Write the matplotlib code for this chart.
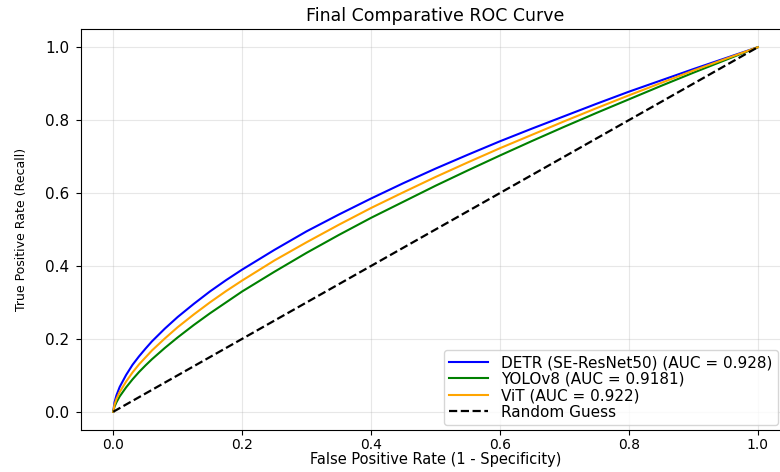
import numpy as np
import matplotlib
matplotlib.use("Agg")
import matplotlib.pyplot as plt

# false positive rate sample points shared by all models
fpr = [0.0, 0.002, 0.005, 0.01, 0.02, 0.03, 0.04, 0.05, 0.06, 0.08, 0.10,
       0.125, 0.15, 0.175, 0.20, 0.25, 0.30, 0.35, 0.40, 0.45, 0.50,
       0.55, 0.60, 0.65, 0.70, 0.75, 0.80, 0.85, 0.90, 0.95, 1.0]

tpr_detr = [0.0, 0.026, 0.045, 0.068, 0.101, 0.129, 0.152, 0.173, 0.193, 0.228, 0.260,
            0.296, 0.330, 0.361, 0.390, 0.444, 0.495, 0.541, 0.585, 0.627, 0.667,
            0.705, 0.742, 0.777, 0.811, 0.845, 0.878, 0.909, 0.940, 0.970, 1.0]
tpr_yolo = [0.0, 0.014, 0.026, 0.042, 0.067, 0.089, 0.109, 0.127, 0.144, 0.175, 0.204,
            0.238, 0.270, 0.300, 0.330, 0.384, 0.436, 0.485, 0.532, 0.576, 0.620,
            0.662, 0.703, 0.743, 0.782, 0.820, 0.857, 0.894, 0.930, 0.965, 1.0]
tpr_vit = [0.0, 0.019, 0.035, 0.054, 0.083, 0.108, 0.130, 0.149, 0.168, 0.201, 0.232,
           0.267, 0.300, 0.331, 0.360, 0.415, 0.465, 0.513, 0.559, 0.602, 0.644,
           0.684, 0.723, 0.760, 0.797, 0.833, 0.868, 0.902, 0.936, 0.968, 1.0]

auc_detr = 0.928
auc_yolo = 0.9181
auc_vit = 0.922

fig = plt.figure(figsize=(7.8, 4.72), dpi=100)
ax = fig.add_axes([81 / 780, 42 / 472, 709 / 780, 401 / 472])

ax.plot(fpr, tpr_detr, color="blue", lw=1.5,
        label=f"DETR (SE-ResNet50) (AUC = {auc_detr})")
ax.plot(fpr, tpr_yolo, color="green", lw=1.5,
        label=f"YOLOv8 (AUC = {auc_yolo})")
ax.plot(fpr, tpr_vit, color="orange", lw=1.5,
        label=f"ViT (AUC = {auc_vit})")
ax.plot([0, 1], [0, 1], "k--", lw=1.6, label="Random Guess")

ax.set_xlim(-0.05, 1.05)
ax.set_ylim(-0.05, 1.05)
ax.set_xticks(np.arange(0, 1.01, 0.2))
ax.set_yticks(np.arange(0, 1.01, 0.2))
ax.tick_params(axis="x", labelsize=10, pad=2.5)
ax.tick_params(axis="y", labelsize=11, pad=5)
ax.grid(True, alpha=0.3)

ax.set_title("Final Comparative ROC Curve", fontsize=12.5, pad=6)
ax.set_xlabel("False Positive Rate (1 - Specificity)", fontsize=10.5, labelpad=0)
ax.set_ylabel("True Positive Rate (Recall)", fontsize=9, labelpad=12)

ax.legend(loc="lower right", bbox_to_anchor=(778 / 780, 47 / 472),
          bbox_transform=fig.transFigure, fontsize=11, borderaxespad=0,
          labelspacing=0.1, handlelength=2.5, handletextpad=0.9, borderpad=0.35)

fig.savefig("out.png", dpi=100)
